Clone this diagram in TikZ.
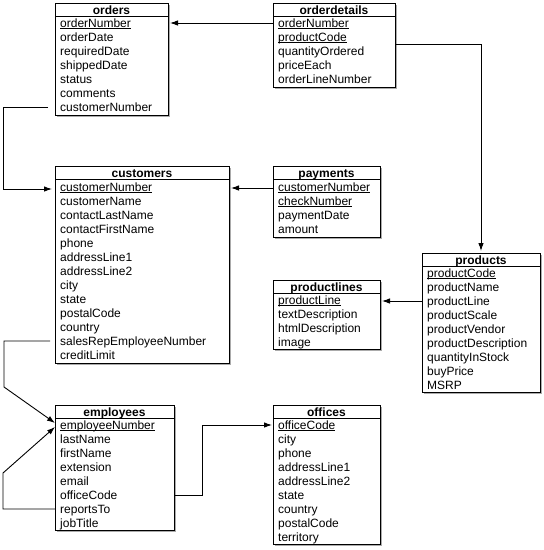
\documentclass[tikz,border=0pt]{standalone}
\usepackage{fontspec}
\setmainfont{Liberation Sans}
\usetikzlibrary{arrows.meta,shadows}
\newcommand{\keyf}[1]{\setbox0\hbox{#1}\rlap{\rule[-1.7pt]{\wd0}{0.6pt}}\box0}
\newcommand{\mktable}[8]{%
  \node[tablebox, minimum width={(#4)-(#2)}, minimum height={(#5)-(#3)}, anchor=north west] (#1) at (#2,#3) {};
  \draw[boxline] ([yshift=-13pt]#1.north west) -- ([yshift=-13pt]#1.north east);
  \node[titletext] (#1-t) at ({(#2+#4)/2},{#3+11}) {#6};
  \foreach \rw [count=\i] in {#8} {
    \node[rowtext] (#1-\i) at ({#2+5},{#7+4.3+14*(\i-1)}) {\rw};
  }
}
\tikzset{
  tablebox/.style={draw, fill=white, line width=0.9pt, inner sep=0pt, outer sep=0pt,
    drop shadow={shadow xshift=1.6pt, shadow yshift=-1.6pt, fill=black!55, opacity=0.6}},
  boxline/.style={line width=0.9pt},
  titletext/.style={font=\fontsize{12}{14}\selectfont\bfseries, anchor=base, inner sep=0pt},
  rowtext/.style={font=\fontsize{12}{14}\selectfont, anchor=base west, inner sep=0pt,
    text height=10.6pt, text depth=2pt},
  conn/.style={draw, line width=0.9pt, -{Latex[length=8pt,width=5.5pt]}}
}
\begin{document}
\begin{tikzpicture}[x=1pt,y=-1pt]
\useasboundingbox (0,0) rectangle (544,550);
\mktable{orders}{55}{3}{168}{115}{orders}{23}{\keyf{orderNumber},orderDate,requiredDate,shippedDate,status,comments,customerNumber}
\mktable{orderdetails}{273}{3}{395}{87}{orderdetails}{23}{\keyf{orderNumber},\keyf{productCode},quantityOrdered,priceEach,orderLineNumber}
\mktable{customers}{55}{166}{229}{363}{customers}{187}{\keyf{customerNumber},customerName,contactLastName,contactFirstName,phone,addressLine1,addressLine2,city,state,postalCode,country,salesRepEmployeeNumber,creditLimit}
\mktable{payments}{273}{166}{380}{237}{payments}{187}{\keyf{customerNumber},\keyf{checkNumber},paymentDate,amount}
\mktable{products}{422}{253}{540}{392}{products}{273}{\keyf{productCode},productName,productLine,productScale,productVendor,productDescription,quantityInStock,buyPrice,MSRP}
\mktable{productlines}{273}{280}{380}{349}{productlines}{300}{\keyf{productLine},textDescription,htmlDescription,image}
\mktable{employees}{55}{405}{174}{530}{employees}{425}{\keyf{employeeNumber},lastName,firstName,extension,email,officeCode,reportsTo,jobTitle}
\mktable{offices}{273}{405}{380}{544}{offices}{425}{\keyf{officeCode},city,phone,addressLine1,addressLine2,state,country,postalCode,territory}
% connectors
\draw[conn] (orderdetails.west |- orderdetails-1) -- ([xshift=2pt]orders.east |- orderdetails-1);
\draw[conn] ([xshift=-7pt]orders.west |- orders-7) -- ++(-45,0) |- ([xshift=-3pt,yshift=-2pt]customers.west |- customers-1);
\draw[conn] ([yshift=-1pt]payments.west |- payments-1) -- ([xshift=2pt,yshift=-1pt]customers.east |- payments-1);
\draw[conn] ([yshift=-7pt]orderdetails.east |- orderdetails-2) -| ([yshift=2pt]products.north);
\draw[conn] (products.west |- products-3) -- ([xshift=2pt]productlines.east |- products-3);
\draw[conn] ([xshift=-5pt]customers.west |- customers-12) -- ++(-46,0) -- ++(0,46) -- ([yshift=2pt]employees.west |- employees-1);
\draw[conn] (employees.west |- employees-7) -- ++(-52,0) -- ++(0,-36) -- ([yshift=-2pt]employees.west |- employees-1);
\draw[conn] (employees.east |- employees-6) -- ++(28,0) |- ([xshift=-1pt]offices.west |- offices-1);
\end{tikzpicture}
\end{document}
